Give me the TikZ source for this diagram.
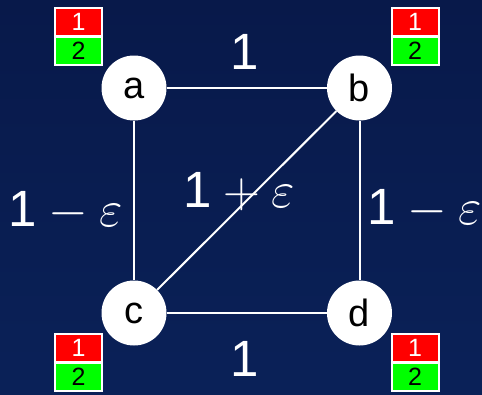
\documentclass[tikz,border=0pt]{standalone}
\usepackage{fix-cm}
\usepackage{fontspec}
\setmainfont{Liberation Sans}
\definecolor{bgtop}{HTML}{08194A}
\definecolor{bgbot}{HTML}{0A2158}
\definecolor{flagred}{HTML}{FF0000}
\definecolor{flaggreen}{HTML}{00FF00}
\tikzset{
  vertex/.style={circle, fill=white, minimum size=65pt, inner sep=0pt,
    font=\fontsize{38}{40}\selectfont, text=black},
  edge/.style={draw=white, line width=2pt},
  weight/.style={anchor=base, text=white, inner sep=0pt,
    font=\fontsize{51}{60}\selectfont},
  redhalf/.style={rectangle, fill=flagred, draw=white, line width=2pt,
    minimum width=47pt, minimum height=28pt, inner sep=0pt, text=white,
    font=\fontsize{25}{28}\selectfont},
  greenhalf/.style={rectangle, fill=flaggreen, draw=white, line width=2pt,
    minimum width=47pt, minimum height=28pt, inner sep=0pt, text=black,
    font=\fontsize{25}{28}\selectfont}
}
\begin{document}
\begin{tikzpicture}[x=1pt,y=-1pt]
  \shade[top color=bgtop, bottom color=bgbot] (0,0) rectangle (482,394);
  \useasboundingbox (0,0) rectangle (482,394);

  \node[vertex] (a) at (134,88) {a};
  \node[vertex] (b) at (359.5,88) {b};
  \node[vertex] (c) at (134,313) {c};
  \node[vertex] (d) at (359.5,313) {d};

  \draw[edge] (a) -- (b);
  \draw[edge] (a) -- (c);
  \draw[edge] (b) -- (d);
  \draw[edge] (c) -- (d);
  \draw[edge] (c) -- (b);

  \node[weight] (wab) at (245,69) {1};
  \node[weight] (wcd) at (245,376) {1};
  \node[weight] (wac) at (65.5,226) {1$\:-\:\varepsilon$};
  \node[weight] (wbd) at (425,224) {1$\:-\:\varepsilon$};
  \node[weight] (wbc) at (239,207) {1$\:+\:\varepsilon$};

  \node[redhalf] (fa1) at (78.5,22) {1};
  \node[greenhalf] (fa2) at (78.5,51) {2};
  \node[redhalf] (fb1) at (415,22) {1};
  \node[greenhalf] (fb2) at (415,51) {2};
  \node[redhalf] (fc1) at (78.5,348) {1};
  \node[greenhalf] (fc2) at (78.5,377) {2};
  \node[redhalf] (fd1) at (415,348) {1};
  \node[greenhalf] (fd2) at (415,377) {2};
\end{tikzpicture}
\end{document}
